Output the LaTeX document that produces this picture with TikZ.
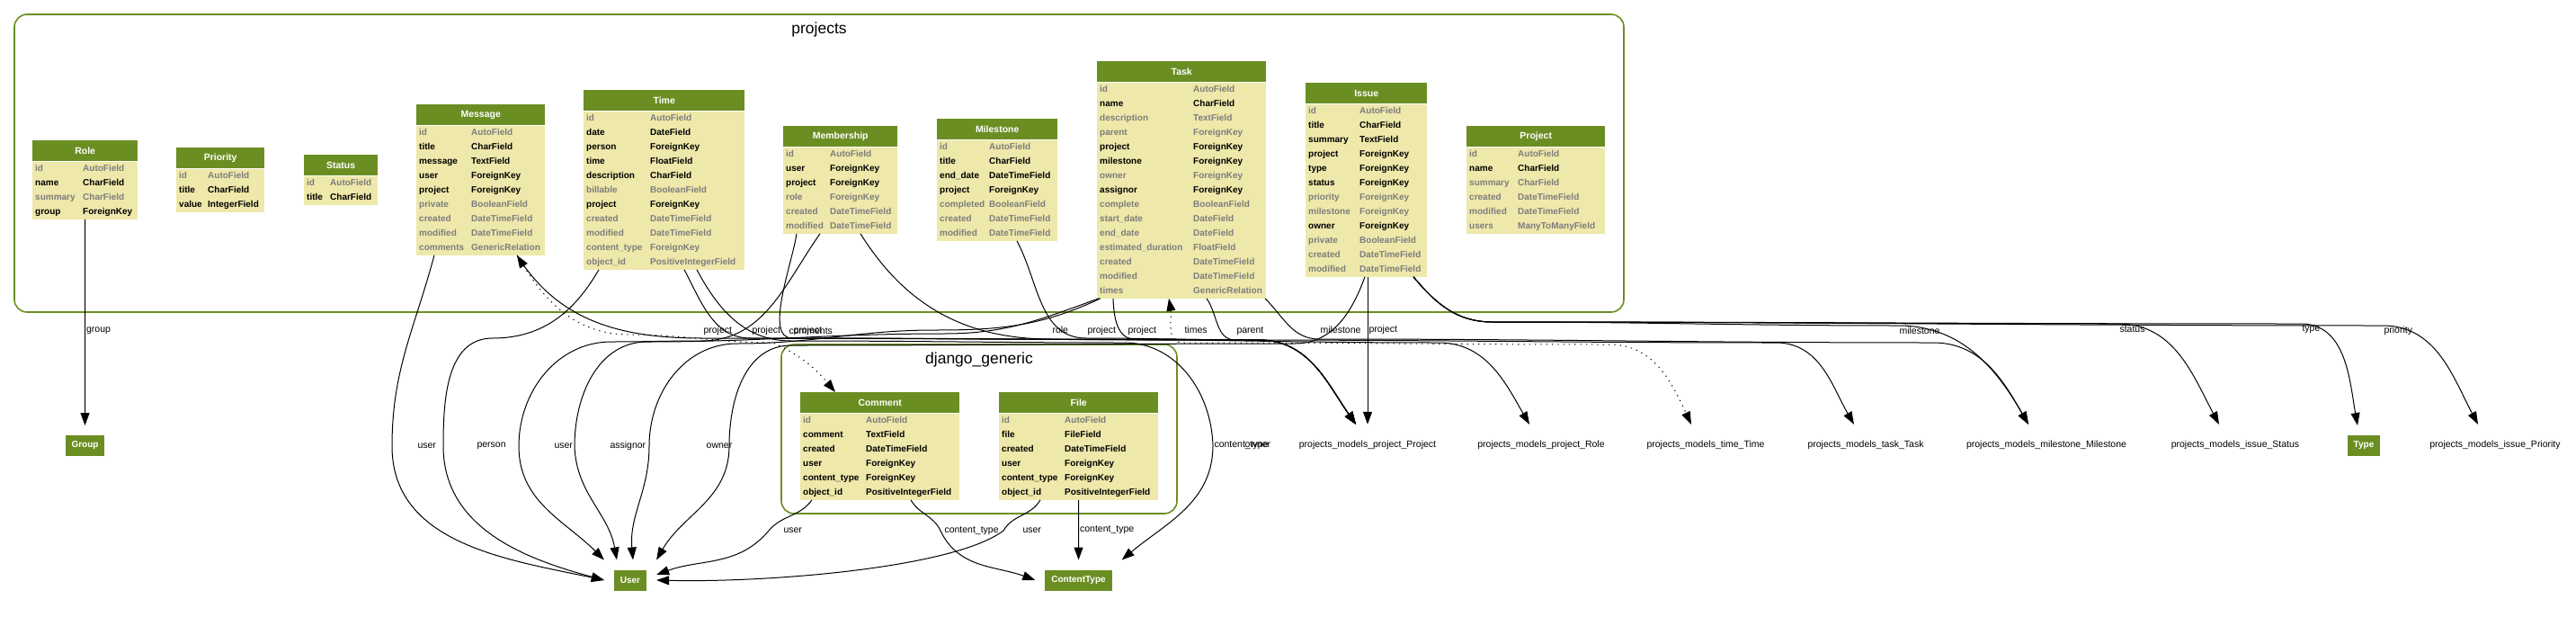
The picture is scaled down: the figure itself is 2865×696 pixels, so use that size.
\documentclass[tikz,border=0pt]{standalone}
\usepackage{fontspec}
\setmainfont{Liberation Sans}
\usepackage{tikz}
\usetikzlibrary{arrows.meta, positioning, calc}
\definecolor{olivedrab}{RGB}{107,142,35}
\definecolor{palegold}{RGB}{238,232,170}
\definecolor{fieldgrey}{RGB}{125,125,125}
\tikzstyle{cluster} = [draw=olivedrab, line width=1.6pt, rounded corners=14pt]
\tikzstyle{ctitle} = [font=\fontsize{17.5}{20}\selectfont, inner sep=0pt]
\tikzstyle{modelhead} = [anchor=north west, fill=olivedrab, text=white, font=\fontsize{10.5}{12}\selectfont\bfseries, minimum height=23pt, inner sep=0pt]
\tikzstyle{modelbody} = [fill=palegold, inner sep=0pt, font=\fontsize{10}{12}\selectfont\bfseries]
\tikzstyle{modelbox} = [fill=olivedrab, text=white, font=\fontsize{10}{12}\selectfont\bfseries, minimum height=23pt, inner xsep=7pt, inner ysep=0pt, outer sep=11pt]
\tikzstyle{extmodel} = [font=\fontsize{10.5}{12}\selectfont, minimum height=46pt, inner sep=0pt]
\tikzstyle{elabel} = [font=\fontsize{10.5}{12}\selectfont, inner sep=1pt]
\tikzstyle{fk} = [line width=1pt, -{Triangle[length=14pt,width=10pt]}]
\tikzstyle{generic} = [line width=1pt, dash pattern=on 1.3pt off 5pt, {Triangle[length=14pt,width=10pt]}-{Triangle[length=14pt,width=10pt]}]
\newcommand{\fields}[3]{{\renewcommand{\arraystretch}{0}\begin{tabular}{@{\hskip3pt}p{#1}@{}p{#2}@{}}#3\end{tabular}}}
\newcommand{\nullfld}[2]{\textcolor{fieldgrey}{#1}\rule[-4.7pt]{0pt}{16pt} & \textcolor{fieldgrey}{#2}\\}
\newcommand{\reqfld}[2]{#1\rule[-4.7pt]{0pt}{16pt} & #2\\}

\begin{document}
\begin{tikzpicture}[x=1pt, y=1pt, node distance=0pt]
\useasboundingbox[fill=white] (0,0) rectangle (2865,-696);

\draw [cluster] (16,-16) rectangle (1806,-347);
\node (projtitle) [ctitle] at (911,-33) {projects};
\draw [cluster] (869,-383) rectangle (1309,-571);
\node (gentitle) [ctitle] at (1089,-400) {django\_generic};

\node (role) [modelhead, minimum width=117pt] at (36,-156) {Role};
\node (rolef) [modelbody, below=0pt of role] {\fields{53pt}{61pt}{\nullfld{id}{AutoField}\reqfld{name}{CharField}\nullfld{summary}{CharField}\reqfld{group}{ForeignKey}}};

\node (priority) [modelhead, minimum width=98pt] at (196,-164) {Priority};
\node (priorityf) [modelbody, below=0pt of priority] {\fields{32pt}{63pt}{\nullfld{id}{AutoField}\reqfld{title}{CharField}\reqfld{value}{IntegerField}}};

\node (status) [modelhead, minimum width=82pt] at (338,-172) {Status};
\node (statusf) [modelbody, below=0pt of status] {\fields{26pt}{53pt}{\nullfld{id}{AutoField}\reqfld{title}{CharField}}};

\node (message) [modelhead, minimum width=143pt] at (463,-116) {Message};
\node (messagef) [modelbody, below=0pt of message] {\fields{58pt}{82pt}{\nullfld{id}{AutoField}\reqfld{title}{CharField}\reqfld{message}{TextField}\reqfld{user}{ForeignKey}\reqfld{project}{ForeignKey}\nullfld{private}{BooleanField}\nullfld{created}{DateTimeField}\nullfld{modified}{DateTimeField}\nullfld{comments}{GenericRelation}}};

\node (time) [modelhead, minimum width=179pt] at (649,-100) {Time};
\node (timef) [modelbody, below=0pt of time] {\fields{71pt}{105pt}{\nullfld{id}{AutoField}\reqfld{date}{DateField}\reqfld{person}{ForeignKey}\reqfld{time}{FloatField}\reqfld{description}{CharField}\nullfld{billable}{BooleanField}\reqfld{project}{ForeignKey}\nullfld{created}{DateTimeField}\nullfld{modified}{DateTimeField}\nullfld{content\_type}{ForeignKey}\nullfld{object\_id}{PositiveIntegerField}}};

\node (membership) [modelhead, minimum width=127pt] at (871,-140) {Membership};
\node (membershipf) [modelbody, below=0pt of membership] {\fields{49pt}{75pt}{\nullfld{id}{AutoField}\reqfld{user}{ForeignKey}\reqfld{project}{ForeignKey}\nullfld{role}{ForeignKey}\nullfld{created}{DateTimeField}\nullfld{modified}{DateTimeField}}};

\node (milestone) [modelhead, minimum width=134pt] at (1042,-132) {Milestone};
\node (milestonef) [modelbody, below=0pt of milestone] {\fields{55pt}{76pt}{\nullfld{id}{AutoField}\reqfld{title}{CharField}\reqfld{end\_date}{DateTimeField}\reqfld{project}{ForeignKey}\nullfld{completed}{BooleanField}\nullfld{created}{DateTimeField}\nullfld{modified}{DateTimeField}}};

\node (task) [modelhead, minimum width=188pt] at (1220,-68) {Task};
\node (taskf) [modelbody, below=0pt of task] {\fields{104pt}{81pt}{\nullfld{id}{AutoField}\reqfld{name}{CharField}\nullfld{description}{TextField}\nullfld{parent}{ForeignKey}\reqfld{project}{ForeignKey}\reqfld{milestone}{ForeignKey}\nullfld{owner}{ForeignKey}\reqfld{assignor}{ForeignKey}\nullfld{complete}{BooleanField}\nullfld{start\_date}{DateField}\nullfld{end\_date}{DateField}\nullfld{estimated\_duration}{FloatField}\nullfld{created}{DateTimeField}\nullfld{modified}{DateTimeField}\nullfld{times}{GenericRelation}}};

\node (issue) [modelhead, minimum width=135pt] at (1452,-92) {Issue};
\node (issuef) [modelbody, below=0pt of issue] {\fields{57pt}{75pt}{\nullfld{id}{AutoField}\reqfld{title}{CharField}\reqfld{summary}{TextField}\reqfld{project}{ForeignKey}\reqfld{type}{ForeignKey}\reqfld{status}{ForeignKey}\nullfld{priority}{ForeignKey}\nullfld{milestone}{ForeignKey}\reqfld{owner}{ForeignKey}\nullfld{private}{BooleanField}\nullfld{created}{DateTimeField}\nullfld{modified}{DateTimeField}}};

\node (project) [modelhead, minimum width=154pt] at (1631,-140) {Project};
\node (projectf) [modelbody, below=0pt of project] {\fields{54pt}{97pt}{\nullfld{id}{AutoField}\reqfld{name}{CharField}\nullfld{summary}{CharField}\nullfld{created}{DateTimeField}\nullfld{modified}{DateTimeField}\nullfld{users}{ManyToManyField}}};

\node (comment) [modelhead, minimum width=177pt] at (890,-436) {Comment};
\node (commentf) [modelbody, below=0pt of comment] {\fields{70pt}{104pt}{\nullfld{id}{AutoField}\reqfld{comment}{TextField}\reqfld{created}{DateTimeField}\reqfld{user}{ForeignKey}\reqfld{content\_type}{ForeignKey}\reqfld{object\_id}{PositiveIntegerField}}};

\node (file) [modelhead, minimum width=177pt] at (1111,-436) {File};
\node (filef) [modelbody, below=0pt of file] {\fields{70pt}{104pt}{\nullfld{id}{AutoField}\reqfld{file}{FileField}\reqfld{created}{DateTimeField}\reqfld{user}{ForeignKey}\reqfld{content\_type}{ForeignKey}\reqfld{object\_id}{PositiveIntegerField}}};

\node (group) [modelbox] at (94.5,-495.5) {Group};
\node (user) [modelbox] at (701,-645) {User};
\node (ctype) [modelbox] at (1199.5,-645) {ContentType};
\node (type) [modelbox] at (2629,-495.5) {Type};

\node (pProject) [extmodel] at (1521,-495) {projects\_models\_project\_Project};
\node (pRole) [extmodel] at (1714,-495) {projects\_models\_project\_Role};
\node (pTime) [extmodel] at (1897,-495) {projects\_models\_time\_Time};
\node (pTask) [extmodel] at (2075,-495) {projects\_models\_task\_Task};
\node (pMilestone) [extmodel] at (2276,-495) {projects\_models\_milestone\_Milestone};
\node (pStatus) [extmodel] at (2486,-495) {projects\_models\_issue\_Status};
\node (pPriority) [extmodel] at (2775,-495) {projects\_models\_issue\_Priority};

\draw [fk] (rolef) -- node[elabel, anchor=west, pos=0.54] {group} (group);

\draw [fk] ([xshift=20pt]messagef.south west) to[out=255,in=90] (436,-496) node[elabel, anchor=west, xshift=27pt] {user} to[out=-90,in=168] (user.west);
\draw [fk] ([xshift=17pt]timef.south west) to[out=240,in=0] (548,-376) to[out=180,in=90] (493,-496) node[elabel, anchor=west, xshift=36pt] {person} to[out=-90,in=165] (user.west);
\draw [fk] ([xshift=41pt]membershipf.south west) to[out=235,in=0] (780,-379) to[out=180,in=0] (680,-380) to[out=180,in=90] (577,-496) node[elabel, anchor=west, xshift=38pt] {user} to[out=-90,in=135] (user.north west);
\draw [fk] ([xshift=2pt]taskf.south west) to[out=200,in=0] (1050,-371) to[out=180,in=0] (720,-380) to[out=180,in=90] (639,-496) node[elabel, anchor=west, xshift=38pt] {assignor} to[out=-88,in=100] ([xshift=-15pt]user.north);
\draw [fk] ([xshift=4pt]taskf.south west) to[out=205,in=0] (1040,-367) to[out=180,in=0] (820,-382) to[out=180,in=90] (722,-496) to[out=-90,in=95] ([xshift=3pt]user.north);
\draw [fk] ([xshift=66pt]issuef.south west) to[out=250,in=0] (1440,-382) to[out=180,in=0] (880,-384) to[out=180,in=90] (811,-496) node[elabel, xshift=-11pt] {owner} to[out=-90,in=60] (user.north east);
\draw [fk] ([xshift=13pt]commentf.south west) to[out=235,in=50] (855,-590) node[elabel, anchor=west, xshift=15pt] {user} to[out=230,in=20] ([yshift=6pt]user.east);
\draw [fk] ([xshift=46pt]filef.south west) to[out=240,in=60] (1116,-590) node[elabel, anchor=west, xshift=20pt] {user} .. controls (1060,-632) and (850,-648) .. (user.east);

\draw [fk] ([xshift=123pt]commentf.south west) to[out=-60,in=115] (1046,-590) node[elabel, anchor=west, xshift=3pt] {content\_type} to[out=-65,in=160] (ctype.west);
\draw [fk] (filef) -- node[elabel, anchor=west] {content\_type} (ctype);
\draw [fk] ([xshift=126pt]timef.south west) to[out=-62,in=180] (880,-379) to[out=0,in=180] (1250,-381) to[out=0,in=92] (1349,-495) node[elabel, anchor=west] {content\_type} node[elabel, anchor=west, xshift=34pt] {owner} to[out=-90,in=40] (ctype.north east);

\draw [fk] ([xshift=112pt]messagef.south west) to[out=-58,in=180] (781,-376) node[elabel, anchor=base west, yshift=6pt] {project} to[out=0,in=180] (1400,-378) to[out=0,in=125] ([xshift=-13pt]pProject.north);
\draw [fk] ([xshift=112pt]timef.south west) to[out=-62,in=180] (835,-376) node[elabel, anchor=base west, yshift=6pt] {project} to[out=0,in=180] (1400,-378) to[out=0,in=125] ([xshift=-13pt]pProject.north);
\draw [fk] ([xshift=15pt]membershipf.south west) to[out=262,in=180,looseness=0.7] (881,-376) node[elabel, anchor=base west, yshift=6pt] {project} to[out=0,in=180] (1400,-378) to[out=0,in=125] ([xshift=-13pt]pProject.north);
\draw [fk] ([xshift=89pt]milestonef.south west) to[out=-62,in=180] (1208,-376) node[elabel, anchor=base west, yshift=6pt] {project} to[out=0,in=180] (1400,-378) to[out=0,in=125] ([xshift=-13pt]pProject.north);
\draw [fk] ([xshift=18pt]taskf.south west) to[out=-88,in=180] (1262,-377) node[elabel, anchor=base west, xshift=-9pt, yshift=7pt] {project} to[out=0,in=180] (1400,-378) to[out=0,in=125] ([xshift=-13pt]pProject.north);
\draw [fk] ([xshift=69pt]issuef.south west) -- node[elabel, anchor=west, pos=0.36] {project} (pProject.north);

\draw [fk] ([xshift=86pt]membershipf.south west) to[out=-58,in=180] (1169,-377) node[elabel, anchor=base west, yshift=7pt] {role} to[out=0,in=180] (1600,-381) to[out=0,in=120] ([xshift=-13pt]pRole.north);
\draw [generic] ([xshift=80pt]taskf.south west) to[out=-80,in=180] (1316,-381) node[elabel, anchor=base west, yshift=11pt] {times} to[out=0,in=180] (1790,-383) to[out=0,in=115] ([xshift=-16pt]pTime.north);
\draw [generic] ([xshift=112pt]messagef.south west) to[out=-58,in=180] (700,-372) to[out=0,in=180] (860,-381) node[elabel, anchor=base west, xshift=16pt, yshift=10pt] {comments} to[out=-25,in=130] ([xshift=39pt]comment.north west);
\draw [fk] ([xshift=122pt]taskf.south west) to[out=-55,in=180] (1374,-378) node[elabel, anchor=base west, yshift=8pt] {parent} to[out=0,in=180] (1975,-381) to[out=0,in=120] ([xshift=-13pt]pTask.north);
\draw [fk] ([xshift=187pt]taskf.south west) to[out=-45,in=180] (1467,-377) node[elabel, anchor=base west, yshift=7pt] {milestone} to[out=0,in=180] (2150,-381) to[out=0,in=120] ([xshift=-20pt]pMilestone.north);

\draw [fk] ([xshift=120pt]issuef.south west) to[out=-50,in=180] (1660,-358) to[out=0,in=180] (2111,-362) node[elabel, anchor=west, yshift=-6pt] {milestone} to[out=0,in=120] ([xshift=-20pt]pMilestone.north);
\draw [fk] ([xshift=120pt]issuef.south west) to[out=-50,in=180] (1660,-358) to[out=0,in=180] (2356,-360) node[elabel, anchor=west, yshift=-6pt] {status} to[out=0,in=118] ([xshift=-18pt]pStatus.north);
\draw [fk] ([xshift=120pt]issuef.south west) to[out=-50,in=180] (1660,-358) to[out=0,in=180] (2559,-360) node[elabel, anchor=west, yshift=-6pt] {type} to[out=0,in=100] ([xshift=-7pt]type.north);
\draw [fk] ([xshift=120pt]issuef.south west) to[out=-50,in=180] (1660,-358) to[out=0,in=180] (2650,-362) node[elabel, anchor=west, yshift=-6pt] {priority} to[out=0,in=118] ([xshift=-19pt]pPriority.north);
\end{tikzpicture}
\end{document}
